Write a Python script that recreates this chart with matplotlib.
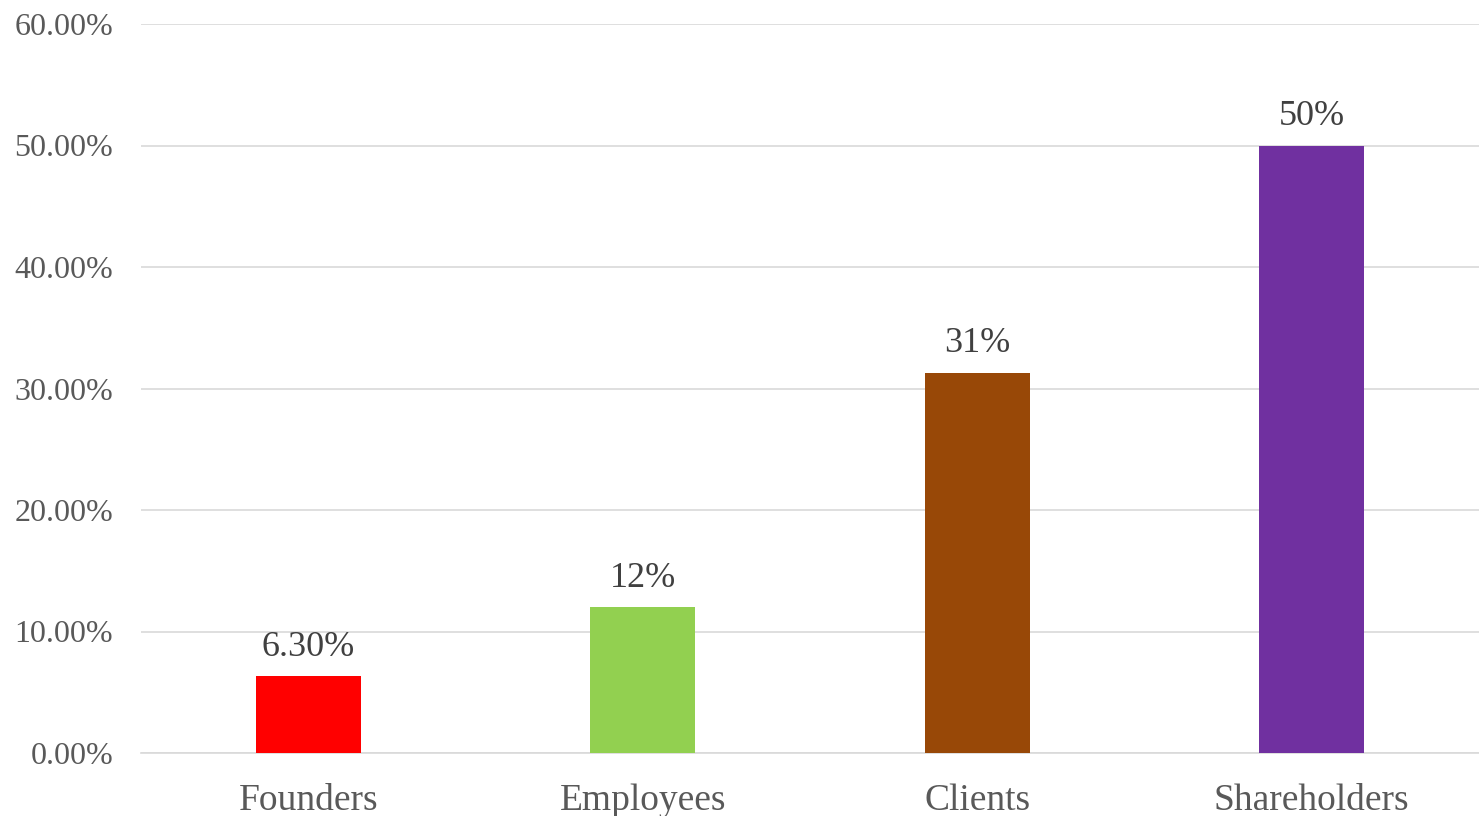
import matplotlib
matplotlib.use("Agg")
import matplotlib.pyplot as plt
from matplotlib.ticker import FuncFormatter

# data
categories = ["Founders", "Employees", "Clients", "Shareholders"]
values = [6.3, 12.0, 31.3, 50.0]
value_labels = ["6.30%", "12%", "31%", "50%"]
bar_colors = ["#FF0000", "#92D050", "#984807", "#7030A0"]
y_ticks = [0, 10, 20, 30, 40, 50, 60]

plt.rcParams["font.family"] = ["Liberation Serif", "DejaVu Serif"]

fig = plt.figure(figsize=(14.79, 8.16), dpi=100)
ax = fig.add_axes([141 / 1479, 1 - 753 / 816, (1479 - 141) / 1479, (753 - 24) / 816])

x = range(len(categories))
bars = ax.bar(x, values, width=0.314, color=bar_colors, zorder=3)

for b, lab in zip(bars, value_labels):
    ax.annotate(lab, (b.get_x() + b.get_width() / 2, b.get_height()),
                xytext=(0, 9), textcoords="offset points",
                ha="center", va="bottom", fontsize=26, color="#404040")

ax.set_xlim(-0.5, len(categories) - 0.5)
ax.set_ylim(0, 60)
ax.set_yticks(y_ticks)
ax.yaxis.set_major_formatter(FuncFormatter(lambda v, p: "%.2f%%" % v))
ax.set_xticks(list(x))
ax.set_xticklabels(categories)

ax.grid(axis="y", color="#D9D9D9", linewidth=1.2, zorder=0)
for s in ["top", "right", "left"]:
    ax.spines[s].set_visible(False)
ax.spines["bottom"].set_color("#D9D9D9")
ax.spines["bottom"].set_linewidth(1.2)

ax.tick_params(axis="y", length=0, pad=20, labelsize=23, labelcolor="#595959")
ax.tick_params(axis="x", length=0, pad=22, labelsize=27, labelcolor="#595959")

fig.savefig("out.png", dpi=100)
